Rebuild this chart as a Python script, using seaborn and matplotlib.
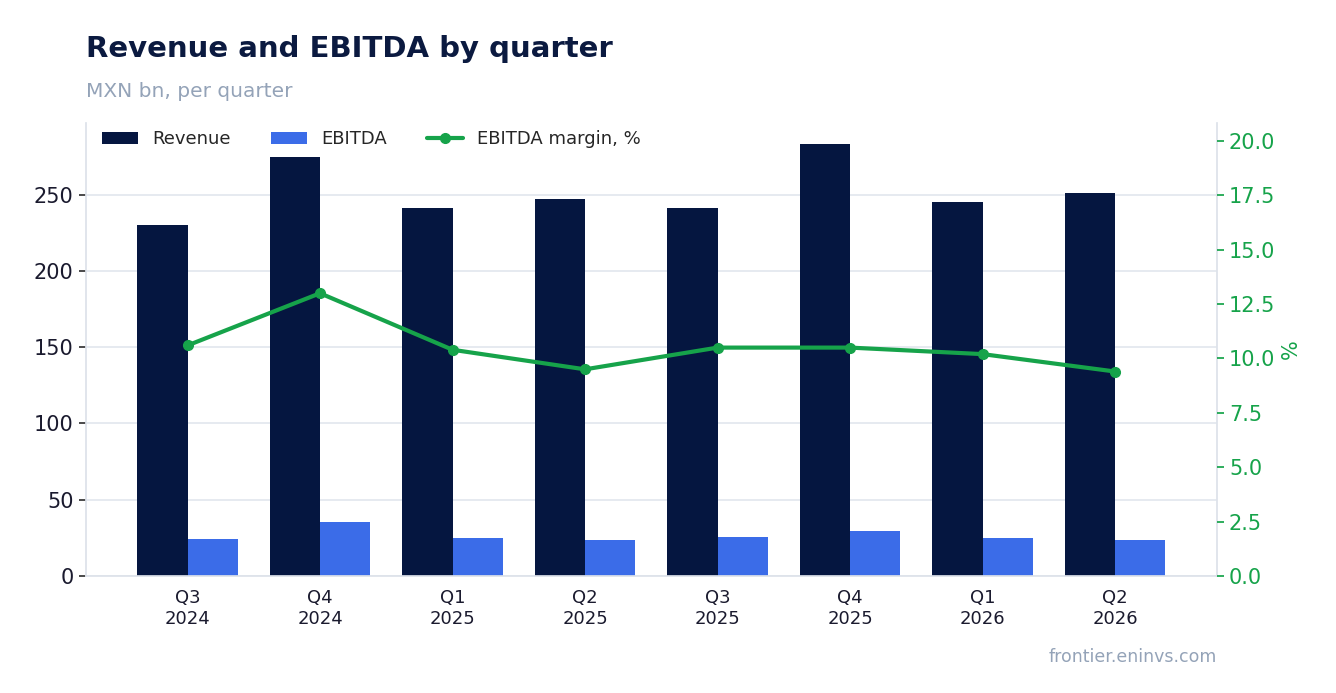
import matplotlib
matplotlib.use("Agg")
import matplotlib.pyplot as plt
import seaborn as sns
import numpy as np
import pandas as pd

quarters = ["Q3\n2024", "Q4\n2024", "Q1\n2025", "Q2\n2025", "Q3\n2025", "Q4\n2025", "Q1\n2026", "Q2\n2026"]
revenue = [230, 275, 241, 247, 241.5, 283, 245, 251]
ebitda = [24, 35.4, 25, 23.6, 25.6, 29.5, 25, 23.6]
margin = [10.6, 13.0, 10.4, 9.5, 10.5, 10.5, 10.2, 9.4]

sns.set_theme(style="white")
plt.rcParams['font.family'] = ['DejaVu Sans']

fig = plt.figure(figsize=(13.36, 6.93), dpi=100)
ax = fig.add_axes([0.064, 0.169, 0.847, 0.6535])

df = pd.DataFrame({"q": quarters * 2, "v": revenue + ebitda,
                   "s": ["Revenue"] * 8 + ["EBITDA"] * 8})
sns.barplot(data=df, x="q", y="v", hue="s", palette=["#051640", "#3b6ce8"],
            width=0.76, saturation=1, linewidth=0, ax=ax, zorder=2)
ax.set_ylim(0, 297)
ax.set_xlim(-0.77, 7.77)
ax.set_xlabel(""); ax.set_ylabel("")
ax.yaxis.grid(True, color="#e2e6ee", lw=1.2, zorder=0)
ax.set_axisbelow(True)
ax.spines["top"].set_visible(False)
for s in ["left", "bottom", "right"]:
    ax.spines[s].set_color("#dde2ea")
ax.tick_params(axis="y", labelsize=15, colors="#1a1a2e", left=True, length=5, color="#333")
ax.tick_params(axis="x", labelsize=13, colors="#1a1a2e")

ax2 = ax.twinx()
ax2.plot(range(8), margin, color="#16a34a", lw=3, marker="o", ms=7, label="EBITDA margin, %")
ax2.set_xlim(-0.77, 7.77)
ax2.set_ylim(0, 20.83)
ax2.set_yticks(np.arange(0, 20.1, 2.5))
ax2.set_yticklabels([f"{v:.1f}" for v in np.arange(0, 20.1, 2.5)])
ax2.tick_params(axis="y", labelsize=15, colors="#16a34a", right=True, length=5, color="#16a34a")
ax2.set_ylabel("%", color="#16a34a", fontsize=15)
for s in ax2.spines.values():
    s.set_visible(False)

h1, l1 = ax.get_legend_handles_labels()
h2, l2 = ax2.get_legend_handles_labels()
ax.legend(h1 + h2, l1 + l2, loc="upper left", ncol=3, frameon=False, fontsize=13,
          bbox_to_anchor=(0.0, 1.02), columnspacing=2.2)

fig.text(0.064, 0.918, "Revenue and EBITDA by quarter", fontsize=21, fontweight="bold", color="#0b1a40")
fig.text(0.064, 0.86, "MXN bn, per quarter", fontsize=14.5, color="#94a3b8")
fig.text(0.911, 0.045, "frontier.eninvs.com", fontsize=12.5, color="#94a3b8", ha="right")
fig.savefig("out.png", dpi=100)
